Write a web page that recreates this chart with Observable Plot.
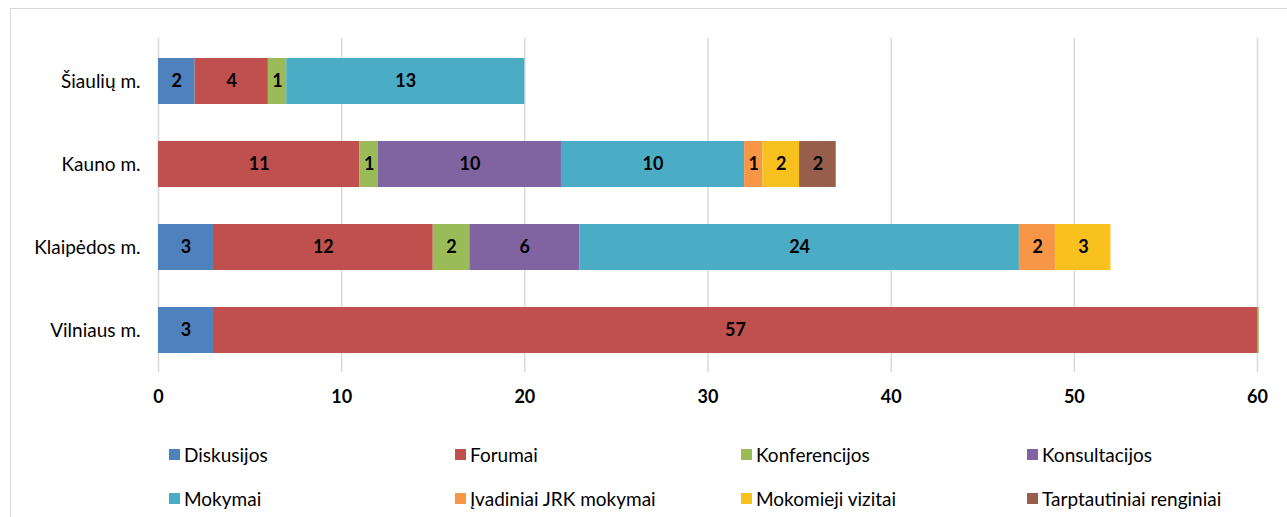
<!DOCTYPE html>
<html>
<head>
<meta charset="utf-8">
<script src="https://cdn.jsdelivr.net/npm/d3@7"></script>
<script src="https://cdn.jsdelivr.net/npm/@observablehq/plot@0.6"></script>
<style>
  html, body { margin: 0; padding: 0; background: #fff; }
  body { width: 1287px; height: 517px; position: relative; overflow: hidden; font-family: Lato, "Open Sans", sans-serif; }
  #frame { position: absolute; left: 10px; top: 8px; width: 1400px; height: 600px; border: 1.5px solid #d9d9d9; box-sizing: border-box; }
  #chart { position: absolute; left: 0; top: 0; }
  .leg { position: absolute; display: flex; align-items: center; font-size: 19px; color: #000; white-space: nowrap; }
  .sw { width: 11px; height: 11px; margin-right: 4px; }
</style>
</head>
<body>
<div id="frame"></div>
<div id="chart"></div>
<div id="legend"></div>
<script>
const cities = ["Šiaulių m.", "Kauno m.", "Klaipėdos m.", "Vilniaus m."];
const seriesNames = ["Diskusijos", "Forumai", "Konferencijos", "Konsultacijos", "Mokymai", "Įvadiniai JRK mokymai", "Mokomieji vizitai", "Tarptautiniai renginiai"];
const seriesColors = ["#4F81BD", "#C0504D", "#9BBB59", "#8064A2", "#4BACC6", "#F79646", "#F9C11E", "#975F4B"];
const diskusijos    = [2, 0, 3, 3];
const forumai       = [4, 11, 12, 57];
const konferencijos = [1, 1, 2, 0.1];
const konsultacijos = [0, 10, 6, 0];
const mokymai       = [13, 10, 24, 0];
const ivadiniai     = [0, 1, 2, 0];
const mokomieji     = [0, 2, 3, 0];
const tarptautiniai = [0, 2, 0, 0];
const xTicks = [0, 10, 20, 30, 40, 50, 60];

const seriesValues = [diskusijos, forumai, konferencijos, konsultacijos, mokymai, ivadiniai, mokomieji, tarptautiniai];
const data = [];
seriesNames.forEach((s, i) => {
  cities.forEach((c, j) => {
    const v = seriesValues[i][j];
    if (v > 0) data.push({city: c, series: s, value: v});
  });
});

const chart = Plot.plot({
  width: 1287,
  height: 420,
  marginLeft: 158,
  marginRight: 30,
  marginTop: 38,
  marginBottom: 48,
  style: {fontFamily: "Lato, 'Open Sans', sans-serif", background: "transparent"},
  x: {domain: [0, 60], ticks: xTicks, label: null},
  y: {domain: cities, paddingInner: 0.45, paddingOuter: 0.225, label: null},
  color: {domain: seriesNames, range: seriesColors},
  marks: [
    Plot.gridX(xTicks, {stroke: "#d9d9d9", strokeOpacity: 1, strokeWidth: 1.5}),
    Plot.barX(data, Plot.stackX({x: "value", y: "city", z: "series", fill: "series", order: seriesNames})),
    Plot.text(data, Plot.stackX({x: "value", y: "city", z: "series", order: seriesNames,
      text: d => d.value >= 1 ? String(d.value) : "", fill: "#000", fontWeight: "bold", fontSize: 18})),
    Plot.axisX(xTicks, {tickSize: 0, tickPadding: 18, fontSize: 18, fontWeight: "bold", fill: "#000"}),
    Plot.axisY({tickSize: 0, tickPadding: 18, fontSize: 19, fill: "#000"})
  ]
});
document.getElementById("chart").appendChild(chart);

const legendX = [169, 455, 741, 1027];
const legendY = [454, 498];
const legend = document.getElementById("legend");
seriesNames.forEach((s, i) => {
  const el = document.createElement("div");
  el.className = "leg";
  el.style.left = legendX[i % 4] + "px";
  el.style.top = (legendY[Math.floor(i / 4)] - 12) + "px";
  el.style.height = "24px";
  const sw = document.createElement("span");
  sw.className = "sw";
  sw.style.background = seriesColors[i];
  el.appendChild(sw);
  const t = document.createElement("span");
  t.textContent = s;
  el.appendChild(t);
  legend.appendChild(el);
});
</script>
</body>
</html>
